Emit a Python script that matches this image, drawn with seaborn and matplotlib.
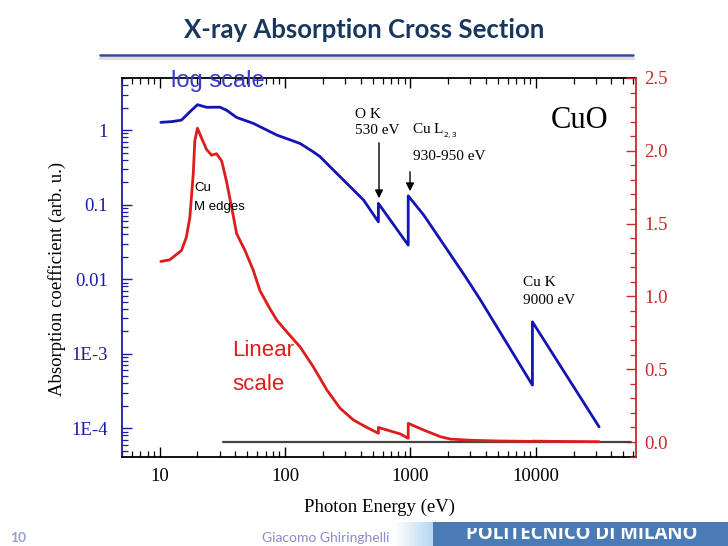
import numpy as np
import pandas as pd
import matplotlib
matplotlib.use("Agg")
import matplotlib.pyplot as plt
import matplotlib.ticker as mticker
from matplotlib.patches import Rectangle
import seaborn as sns

# ---------------- data ----------------
energy_log = [10.2, 12.5, 14.9, 17.4, 20.0, 23.7, 30.2, 34.1, 41.0, 55.8, 86, 132, 168, 190,
              229, 423, 555, 555, 960, 960, 1277, 2754, 3630, 9400, 9400, 32000]
mu_log = [1.27, 1.30, 1.36, 1.76, 2.19, 2.02, 2.03, 1.85, 1.48, 1.23, 0.857, 0.66, 0.51, 0.44,
          0.321, 0.115, 0.0588, 0.1038, 0.0286, 0.131, 0.0723, 0.0107, 5.2e-3, 3.78e-4, 2.67e-3, 1.04e-4]

energy_lin = [10.2, 12.0, 14.9, 16.3, 17.4, 18.5, 19.05, 20.0, 21.5, 23.6, 25.9, 28.4, 31.2, 34.1,
              37.5, 41.1, 47.9, 55.7, 63, 74, 86, 103.5, 131.8, 168, 216, 275, 351, 449, 555, 555,
              832, 960, 960, 1277, 1740, 2090, 3000, 5000, 9400, 9400, 15000, 32000]
mu_lin = [1.24, 1.251, 1.315, 1.406, 1.543, 1.84, 2.068, 2.155, 2.09, 2.01, 1.97, 1.98, 1.93, 1.79,
          1.61, 1.43, 1.315, 1.18, 1.04, 0.93, 0.836, 0.755, 0.653, 0.516, 0.356, 0.231, 0.151, 0.10,
          0.06, 0.10, 0.055, 0.025, 0.128, 0.082, 0.036, 0.02, 0.012, 0.007, 0.004, 0.006, 0.004, 0.002]

baseline_energy = [32, 58000]
baseline_value = [0.0, 0.0]

log_ticks = [1e-4, 1e-3, 1e-2, 1e-1, 1]
log_tick_labels = ["1E-4", "1E-3", "0.01", "0.1", "1"]
lin_ticks = [0.0, 0.5, 1.0, 1.5, 2.0, 2.5]
lin_tick_labels = ["0.0", "0.5", "1.0", "1.5", "2.0", "2.5"]
x_ticks = [10, 100, 1000, 10000]
x_tick_labels = ["10", "100", "1000", "10000"]

df_log = pd.DataFrame({"E": energy_log, "mu": mu_log})
df_lin = pd.DataFrame({"E": energy_lin, "mu": mu_lin})
df_base = pd.DataFrame({"E": baseline_energy, "mu": baseline_value})

# ---------------- styling ----------------
sns.set_style("white")
plt.rcParams["font.family"] = ["Liberation Serif", "DejaVu Serif"]

BLUE = "#1414b4"
AXBLUE = "#1a1aa8"
RED = "#dd1c1c"
AXRED = "#c8282a"

W, H = 728, 546
fig = plt.figure(figsize=(W / 100, H / 100), dpi=100)

def fx(px):
    return px / W

def fy(py):
    return 1 - py / H

ax = fig.add_axes([fx(122), fy(457), fx(636) - fx(122), fy(78) - fy(457)])
ax2 = ax.twinx()

# curves
sns.lineplot(data=df_log, x="E", y="mu", ax=ax, sort=False, estimator=None,
             color=BLUE, lw=2.0)
sns.lineplot(data=df_base, x="E", y="mu", ax=ax2, sort=False, estimator=None,
             color="#444444", lw=1.6)
sns.lineplot(data=df_lin, x="E", y="mu", ax=ax2, sort=False, estimator=None,
             color=RED, lw=2.0)

ax.set_xscale("log")
ax.set_yscale("log")
ax.set_xlim(5, 63000)
ax.set_ylim(4.1e-5, 5.0)
ax2.set_ylim(-0.103, 2.5)

# x axis
ax.set_xticks(x_ticks)
ax.set_xticklabels(x_tick_labels)
ax.xaxis.set_minor_locator(mticker.LogLocator(base=10, subs=np.arange(2, 10)))
ax.xaxis.set_minor_formatter(mticker.NullFormatter())

# left axis
ax.set_yticks(log_ticks)
ax.set_yticklabels(log_tick_labels)
ax.yaxis.set_minor_locator(mticker.LogLocator(base=10, subs=np.arange(2, 10)))
ax.yaxis.set_minor_formatter(mticker.NullFormatter())

# right axis
ax2.set_yticks(lin_ticks)
ax2.set_yticklabels(lin_tick_labels)
ax2.yaxis.set_minor_locator(mticker.MultipleLocator(0.1))

ax.tick_params(axis="x", which="both", direction="in", top=True, bottom=True,
               colors="black", labelsize=13.5, pad=8)
ax.tick_params(axis="x", which="major", length=7, width=1)
ax.tick_params(axis="x", which="minor", length=4, width=0.9)
ax.tick_params(axis="y", which="both", direction="in", left=True, right=False,
               colors=AXBLUE, labelsize=13.5, pad=10)
ax.tick_params(axis="y", which="major", length=7, width=1)
ax.tick_params(axis="y", which="minor", length=4, width=0.9)
ax2.tick_params(axis="y", which="both", direction="in", right=True, left=False,
                colors=AXRED, labelsize=13.5, pad=6)
ax2.tick_params(axis="y", which="major", length=7, width=1)
ax2.tick_params(axis="y", which="minor", length=4, width=0.9)

for s in ["top", "bottom"]:
    ax.spines[s].set_color("black")
    ax.spines[s].set_linewidth(1.3)
ax.spines["left"].set_color(AXBLUE)
ax.spines["left"].set_linewidth(1.3)
ax.spines["right"].set_visible(False)
for s in ["top", "bottom", "left"]:
    ax2.spines[s].set_visible(False)
ax2.spines["right"].set_color(AXRED)
ax2.spines["right"].set_linewidth(1.3)

ax.set_xlabel("Photon Energy (eV)", fontsize=13.5, color="black", labelpad=10)
ax.set_ylabel("")
ax2.set_ylabel("")
fig.text(fx(57), fy(279), "Absorption coefficient (arb. u.)", fontsize=13.5, color="black",
         rotation=90, ha="center", va="center")

# annotations
sans = ["Liberation Sans", "DejaVu Sans"]
fig.text(fx(171), fy(81), "log scale", fontsize=17, color="#3a3ac8", family=sans,
         va="center", ha="left")
fig.text(fx(232), fy(350), "Linear", fontsize=16, color=RED, family=sans, va="center")
fig.text(fx(232), fy(384), "scale", fontsize=16, color=RED, family=sans, va="center")
fig.text(fx(194), fy(188), "Cu", fontsize=9.5, color="black", family=sans, va="center")
fig.text(fx(194), fy(207), "M edges", fontsize=9.5, color="black", family=sans, va="center")

fig.text(fx(355), fy(114), "O K", fontsize=11, color="black", va="center")
fig.text(fx(355), fy(131), "530 eV", fontsize=11, color="black", va="center")
fig.text(fx(412), fy(131), r"Cu L$_{_{2,3}}$", fontsize=11, color="black", va="center")
fig.text(fx(413), fy(157), "930-950 eV", fontsize=11, color="black", va="center")
fig.text(fx(523), fy(283), "Cu K", fontsize=11, color="black", va="center")
fig.text(fx(523), fy(301), "9000 eV", fontsize=11, color="black", va="center")
fig.text(fx(551), fy(121), "CuO", fontsize=22, color="black", va="center")

arrowprops = dict(arrowstyle="-|>", color="black", lw=1.0, mutation_scale=12)
ax.annotate("", xy=(fx(379), fy(201)), xytext=(fx(379), fy(140)),
            xycoords="figure fraction", textcoords="figure fraction", arrowprops=arrowprops)
ax.annotate("", xy=(fx(410), fy(194)), xytext=(fx(410), fy(169)),
            xycoords="figure fraction", textcoords="figure fraction", arrowprops=arrowprops)

# slide decorations
fig.text(fx(364), fy(30), "X-ray Absorption Cross Section", ha="center", va="center",
         fontsize=18.5, fontweight="bold", color="#17375e", family=["Lato", "DejaVu Sans"])
fig.add_artist(plt.Line2D([fx(100), fx(633)], [fy(57.5), fy(57.5)], color="#dddde4", lw=2.5,
                          transform=fig.transFigure))
fig.add_artist(plt.Line2D([fx(100), fx(633)], [fy(55), fy(55)], color="#3b4699", lw=1.8,
                          transform=fig.transFigure))

fig.text(fx(10), fy(538), "10", fontsize=10, color="#9aa2c6", va="center",
         family=["Lato", "DejaVu Sans"], fontweight="bold")
fig.text(fx(262), fy(538), "Giacomo Ghiringhelli", fontsize=10, color="#8a8ccc", va="center",
         family=["Lato", "DejaVu Sans"])

# light gradient box + dark banner
n = 20
x0, x1 = 393, 433
c0 = np.array([1.0, 1.0, 1.0])
c1 = np.array([0.72, 0.84, 0.95])
for i in range(n):
    tt = i / (n - 1)
    col = c0 * (1 - tt) + c1 * tt
    fig.add_artist(Rectangle((fx(x0 + (x1 - x0) * i / n), 0), fx((x1 - x0) / n + 0.5), fy(522),
                             transform=fig.transFigure, color=col, lw=0))
banner = Rectangle((fx(433), 0), 1 - fx(433), fy(522), transform=fig.transFigure,
                   color="#4b7bb5", lw=0)
fig.add_artist(banner)
t = fig.text(fx(582), fy(539), "POLITECNICO DI MILANO", ha="center", va="baseline",
             fontsize=13.5, fontweight="bold", color="white", family=["Open Sans", "DejaVu Sans"])
# hide the upper part of the letters, as in the reference (cut by the banner)
fig.add_artist(Rectangle((fx(433), fy(528)), 1 - fx(433), fy(522) - fy(528),
                         transform=fig.transFigure, color="#4b7bb5", lw=0, zorder=10))

fig.savefig("out.png", dpi=100)
